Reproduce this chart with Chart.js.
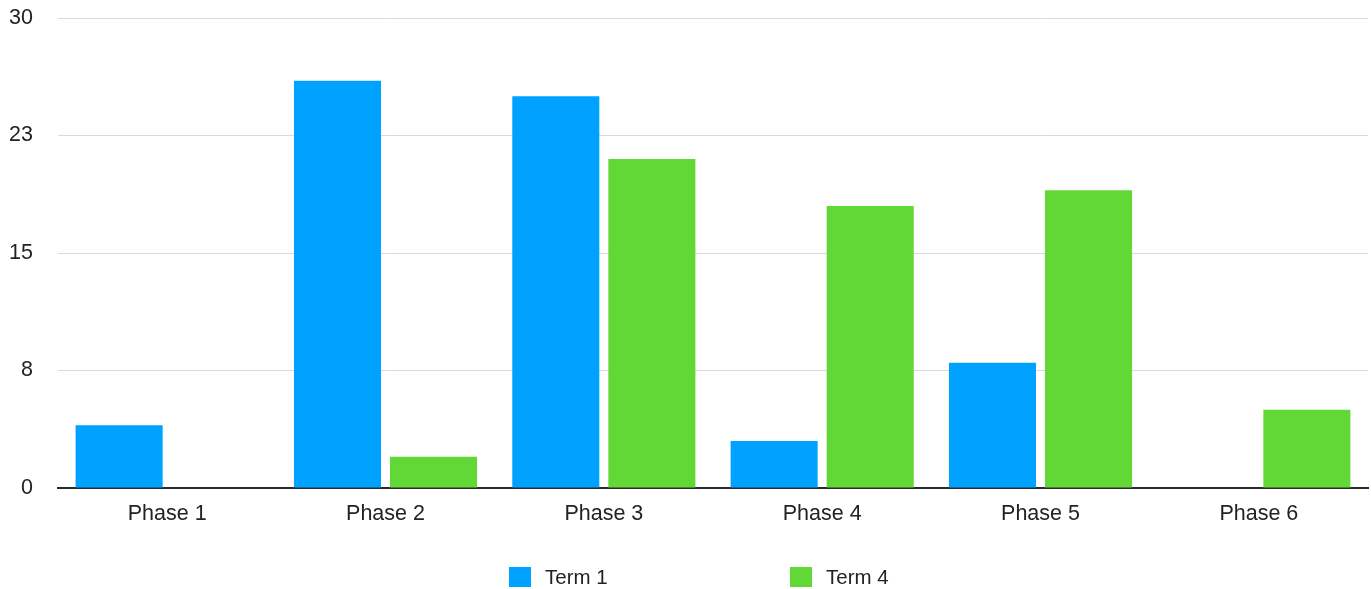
<!DOCTYPE html>
<html>
<head>
<meta charset="utf-8">
<script src="https://cdn.jsdelivr.net/npm/chart.js@4/dist/chart.umd.min.js"></script>
<style>
  html, body { margin: 0; padding: 0; background: #ffffff; }
  #wrap { width: 1371px; height: 589px; position: relative; }
</style>
</head>
<body>
<div id="wrap"><canvas id="chart" width="1371" height="589"></canvas></div>
<script>
// Categories and series
const categories = ['Phase 1', 'Phase 2', 'Phase 3', 'Phase 4', 'Phase 5', 'Phase 6'];
const term1 = [4, 26, 25, 3, 8, 0];
const term4 = [0, 2, 21, 18, 19, 5];
const seriesNames = ['Term 1', 'Term 4'];
// Y axis: ticks every 7.5, shown rounded
const yTickValues = [0, 7.5, 15, 22.5, 30];
const yTickLabels = ['0', '8', '15', '23', '30'];

const COLORS = ['#00A2FF', '#61D836'];
const FONT = '"Liberation Sans", Arial, Helvetica, sans-serif';

// Bottom legend drawn with wide spacing between items
const bottomLegend = {
  id: 'bottomLegend',
  afterDraw(chart) {
    const ctx = chart.ctx;
    const items = chart.data.datasets.map(d => ({ text: d.label, color: d.backgroundColor }));
    const xs = [509, 790];
    const cy = 577;
    ctx.save();
    ctx.font = '20.5px ' + FONT;
    ctx.textBaseline = 'middle';
    ctx.textAlign = 'left';
    items.forEach((it, i) => {
      ctx.fillStyle = it.color;
      ctx.fillRect(xs[i], cy - 10, 22, 20);
      ctx.fillStyle = '#222222';
      ctx.fillText(it.text, xs[i] + 36, cy + 1);
    });
    ctx.restore();
  }
};

new Chart(document.getElementById('chart'), {
  type: 'bar',
  data: {
    labels: categories,
    datasets: [
      { label: seriesNames[0], data: term1, backgroundColor: COLORS[0], borderWidth: 0,
        categoryPercentage: 0.88, barPercentage: 0.906 },
      { label: seriesNames[1], data: term4, backgroundColor: COLORS[1], borderWidth: 0,
        categoryPercentage: 0.88, barPercentage: 0.906 }
    ]
  },
  options: {
    responsive: false,
    animation: false,
    layout: { padding: { top: 18, right: 3, bottom: 0, left: 0 } },
    plugins: {
      legend: { display: false },
      tooltip: { enabled: false }
    },
    scales: {
      x: {
        grid: { display: false, drawTicks: false },
        border: { display: true, color: '#2a2a2a', width: 2 },
        ticks: { color: '#222222', font: { family: FONT, size: 21.5 }, padding: 13, maxRotation: 0 },
        afterFit(scale) { scale.height = 101; }
      },
      y: {
        min: 0,
        max: 30,
        afterBuildTicks(scale) { scale.ticks = yTickValues.map(v => ({ value: v })); },
        grid: { color: '#d9d9d9', lineWidth: 1, drawTicks: false },
        border: { display: false },
        ticks: {
          color: '#222222',
          font: { family: FONT, size: 21.5 },
          padding: 25,
          callback(value, index) { return yTickLabels[index]; }
        },
        afterFit(scale) {
          scale.width = 58;
          scale.paddingTop = 0;
          scale.paddingBottom = 0;
        }
      }
    }
  },
  plugins: [bottomLegend]
});
</script>
</body>
</html>
